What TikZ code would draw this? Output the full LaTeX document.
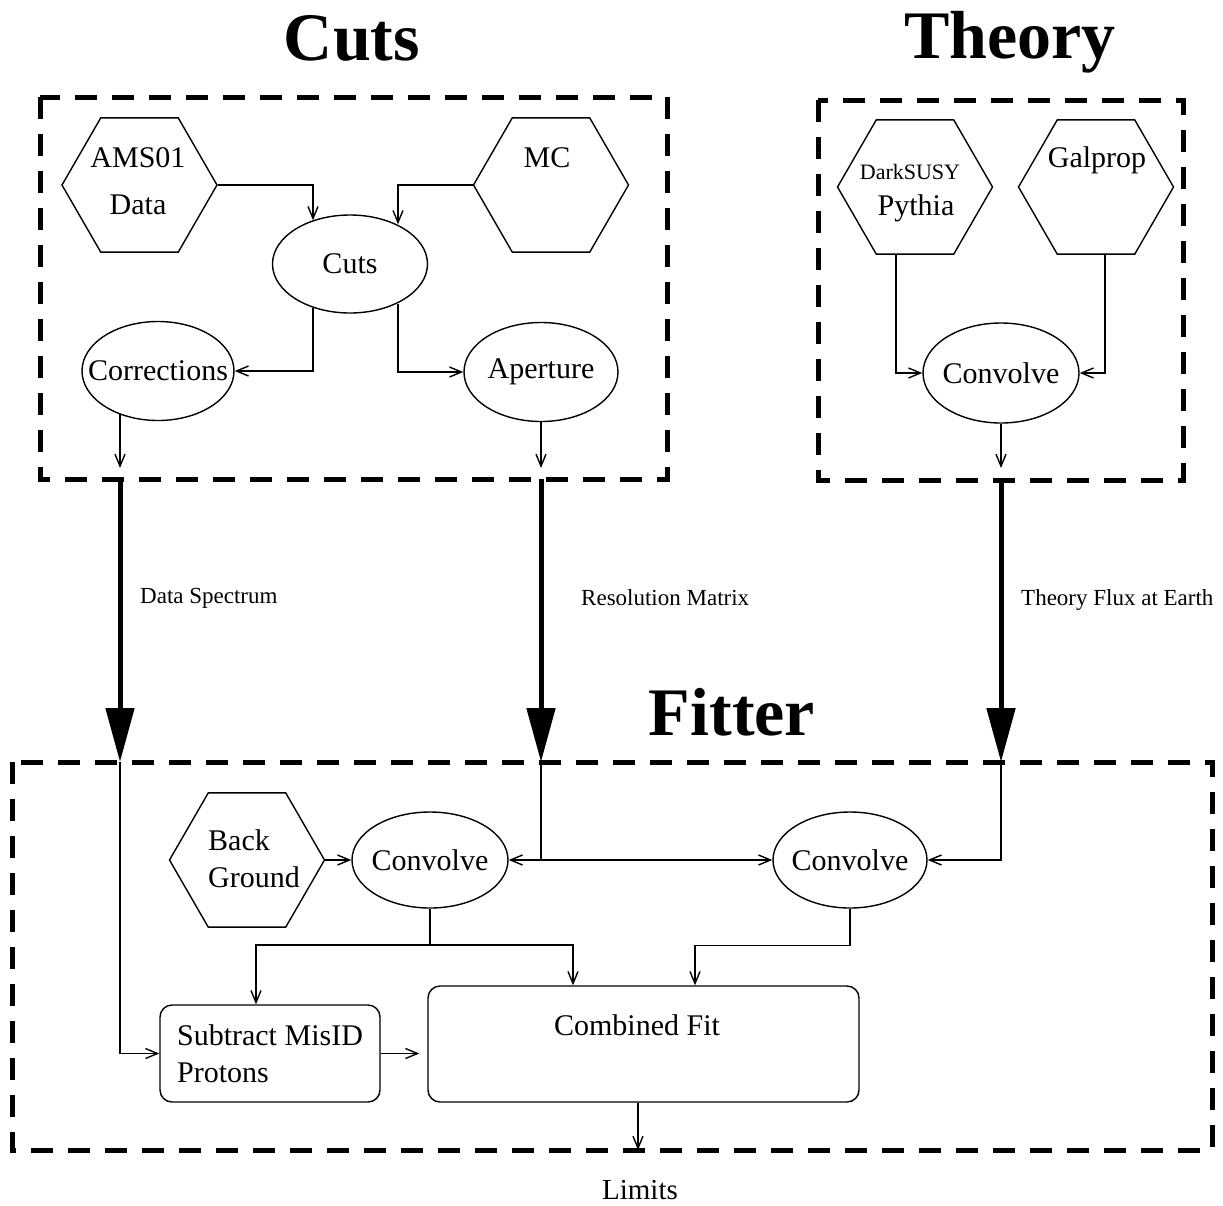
\documentclass[tikz,border=0pt]{standalone}
\usepackage{fontspec}
\setmainfont{Liberation Serif}
\usetikzlibrary{shapes.geometric,arrows.meta,calc}
\begin{document}
\begin{tikzpicture}[x=1pt,y=-1pt,
  wire/.style={line width=1.4pt},
  hexa/.style={draw,line width=1.4pt,regular polygon,regular polygon sides=6,minimum size=155pt,inner sep=0pt},
  ell/.style={draw,line width=1.4pt,ellipse,minimum width=155pt,minimum height=98pt,inner sep=0pt,font=\fontsize{30}{34}\selectfont},
  txt/.style={font=\fontsize{30}{37}\selectfont,inner sep=0pt},
  box/.style={draw,line width=1.4pt,rounded corners=12pt,inner sep=0pt},
  grp/.style={line width=5pt,dash pattern=on 22pt off 15pt},
  arr/.style={line width=1.4pt,-{Straight Barb[length=12pt,width=10pt]}},
  darr/.style={line width=1.4pt,{Straight Barb[length=12pt,width=10pt]}-{Straight Barb[length=12pt,width=10pt]}},
  big/.style={line width=5pt,-{Triangle[length=54pt,width=28pt]}},
  lab/.style={font=\fontsize{23}{26}\selectfont,anchor=west,inner sep=0pt},
  ttl/.style={font=\fontsize{68}{70}\selectfont\bfseries,inner sep=0pt}
]
\useasboundingbox (0,0) rectangle (1223,1205);

% titles
\node[ttl] (tcuts) at (352,38) {Cuts};
\node[ttl] (ttheory) at (1010,42) {Theory};
\node[ttl] (tfitter) at (732,712) {Fitter};

% group boxes
\draw[grp] (40,97) rectangle (667,479);
\draw[grp] (818,100) rectangle (1183,480);
\draw[grp] (12,762) rectangle (1212,1150);

% ---- Cuts group
\node[hexa] (ams) at (139.5,185) {};
\node[txt] (amst1) at (138,158) {AMS01};
\node[txt] (amst2) at (138,205) {Data};
\node[hexa] (mc) at (551,185) {};
\node[txt] (mct) at (547,158) {MC};
\node[ell] (cuts) at (350,264) {\makebox[0pt]{Cuts}};
\node[ell,minimum width=152pt,minimum height=99pt] (corr) at (158,371) {\makebox[0pt]{Corrections}};
\node[ell,minimum width=154pt,minimum height=99pt] (ap) at (541,372) {\makebox[0pt]{Aperture}};

\draw[arr] (ams.east) -| ([xshift=-37pt,yshift=-6pt]cuts.north);
\draw[arr] (mc.west) -| ([xshift=48pt,yshift=-10pt]cuts.north);
\draw[arr] ([xshift=-37pt,yshift=6pt]cuts.south) |- (corr.east);
\draw[arr] ([xshift=48pt,yshift=10pt]cuts.south) |- (ap.west);

\coordinate (c1a) at (120,468);
\coordinate (c1b) at (120,479);
\coordinate (c2a) at (541,468);
\coordinate (c2b) at (541,479);
\draw[arr] ([xshift=-38pt,yshift=7pt]corr.south) -- (c1a);
\draw[arr] (ap.south) -- (c2a);

% ---- Theory group
\node[hexa] (dark) at (915,187) {};
\node[txt,font=\fontsize{22}{24}\selectfont] (darkt1) at (910,172) {DarkSUSY};
\node[txt] (darkt2) at (916,208) {Pythia};
\node[hexa] (gal) at (1096,187) {};
\node[txt] (galt) at (1097,160) {Galprop};
\node[ell,minimum width=156pt,minimum height=100pt] (conv) at (1001,373) {\makebox[0pt]{Convolve}};

\draw[arr] ([xshift=-19pt]dark.south) |- (conv.west);
\draw[arr] ([xshift=9pt]gal.south) |- (conv.east);
\coordinate (c3a) at (1001,468);
\coordinate (c3b) at (1001,480);
\draw[arr] (conv.south) -- (c3a);

% ---- thick transfer arrows
\coordinate (f1) at (120,762);
\coordinate (f2) at (541,762);
\coordinate (f3) at (1001,762);
\draw[big] (c1b) -- (f1);
\draw[big] (c2b) -- (f2);
\draw[big] (c3b) -- (f3);
\node[lab] (l1) at (140,598) {Data Spectrum};
\node[lab] (l2) at (581,598) {Resolution Matrix};
\node[lab] (l3) at (1021,600) {Theory Flux at Earth};

% ---- Fitter group
\node[hexa] (back) at (247,860) {};
\node[txt,anchor=west] (backt1) at (208,840) {Back};
\node[txt,anchor=west] (backt2) at (208,877) {Ground};
\node[ell,minimum width=156pt,minimum height=96pt] (cv1) at (430,860) {\makebox[0pt]{Convolve}};
\node[ell,minimum width=154pt,minimum height=96pt] (cv2) at (850,860) {\makebox[0pt]{Convolve}};
\node[box,minimum width=220pt,minimum height=97pt,align=left,font=\fontsize{30}{37}\selectfont] (sub) at (270,1053.5) {Subtract MisID\\Protons};
\node[box,minimum width=431pt,minimum height=116pt] (comb) at (643.5,1044) {};
\node[txt] (combt) at (637,1025) {Combined Fit};

\draw[arr] (back.east) -- (cv1.west);
\draw[wire] (f2) -- (f2 |- cv1.east);
\draw[darr] (cv1.east) -- (cv2.west);
\draw[arr] (f3) |- (cv2.east);
\draw[arr] (f1) |- (sub.west);

\coordinate (j1) at (430,945);
\draw[wire] (cv1.south) -- (j1);
\draw[arr] (j1) -| ([xshift=-14pt]sub.north);
\draw[arr] (j1) -| ([xshift=-70.5pt]comb.north);
\draw[arr] (cv2.south) -- ++(0,37) -| ([xshift=51.5pt]comb.north);
\draw[arr,shorten >=8pt] (sub.east) -- (sub.east -| comb.west);

\coordinate (lim) at (638,1150);
\draw[arr] ([xshift=-5.5pt]comb.south) -- (lim);
\node[txt,font=\fontsize{29}{32}\selectfont] (limt) at (640,1190) {Limits};
\end{tikzpicture}
\end{document}
